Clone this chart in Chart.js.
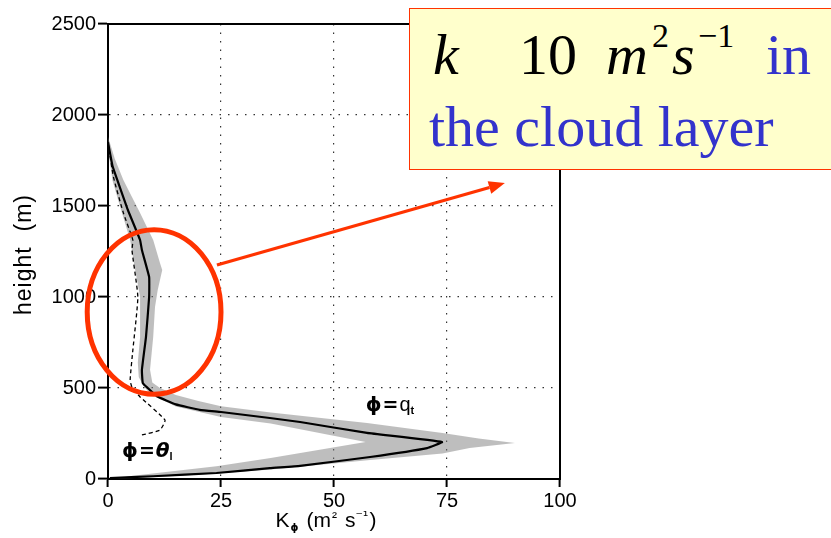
<!DOCTYPE html>
<html><head><meta charset="utf-8">
<script src="https://cdn.jsdelivr.net/npm/chart.js@4.4.1/dist/chart.umd.min.js"></script>
<style>
html,body{margin:0;padding:0;background:#fff;}
#wrap{position:relative;width:831px;height:538px;overflow:hidden;background:#fff;}
#c{position:absolute;left:0;top:0;}
#box{position:absolute;left:409px;top:8px;width:450px;height:162px;background:#ffffcc;border:1.5px solid #ff3300;box-sizing:border-box;}
.t{position:absolute;font-family:"Liberation Serif","Times New Roman",serif;white-space:nowrap;line-height:1;font-size:58px;color:#000;}
.i{font-style:italic;}
.s{font-size:34px;}
.b{color:#3333cc;}
</style></head><body>
<div id="wrap">
<canvas id="c" width="831" height="538"></canvas>
<div id="box"></div>
<span class="t i" style="left:433px;top:26px;">k</span>
<span class="t" style="left:519px;top:26px;">10</span>
<span class="t i" style="left:606px;top:26px;">m</span>
<span class="t s" style="left:652px;top:19px;">2</span>
<span class="t i" style="left:672px;top:26px;">s</span>
<span class="t s" style="left:698px;top:19px;">−1</span>
<span class="t b" style="left:766px;top:26px;">in</span>
<span class="t b" style="left:429px;top:98px;">the cloud layer</span>
</div>
<script>
// ---- data ----
const xTicks = [0, 25, 50, 75, 100];
const yTicks = [0, 500, 1000, 1500, 2000, 2500];

// phi = q_t (solid line): K (m2 s-1) and height (m)
const qtK = [0, 1.0, 2.3, 4.4, 7.1, 7.5, 9.1, 9.1, 8.4, 7.5, 7.7, 8.8, 10.8, 15, 20.3, 25, 35.8, 42.5, 57.3, 73.9, 70.6, 58, 42.5, 35.8, 24, 10, 0.4];
const qtH = [1850, 1720, 1626, 1478, 1313, 1258, 1110, 1000, 780, 599, 527, 500, 455, 410, 380, 368, 335, 313, 253, 203, 170, 121, 72, 60, 33, 15, 5];

// phi = theta_l (dashed line)
const thK = [0, 1.2, 3.4, 5.5, 5.3, 6.6, 5.5, 4.9, 5.3, 7.1, 12.6, 11.5, 7.5];
const thH = [1850, 1660, 1462, 1313, 1258, 1000, 709, 544, 505, 451, 324, 269, 242];

// shaded spread around q_t (outline of the grey region)
const bandK = [0, 1.5, 3.4, 5.5, 7.1, 10, 11.5, 12, 11, 10.4, 10, 9.3, 9.8, 11.5, 15, 20, 25, 36, 57.3, 74, 82, 90, 80, 74, 58, 36, 24, 12, 1,
               5.5, 24, 36, 57, 36, 25, 15, 9.5, 8, 6.8, 6.6, 7.1, 7.1, 6, 4.9, 2.7, 1, 0.3];
const bandH = [1880, 1760, 1643, 1540, 1462, 1313, 1187, 1148, 1038, 945, 780, 600, 530, 500, 462, 428, 400, 365, 308, 253, 222, 198, 170, 140, 104, 52, 30, 12, 0,
               18, 70, 115, 203, 305, 340, 398, 465, 505, 560, 640, 780, 1000, 1150, 1313, 1495, 1640, 1760];

// annotation anchors (data units)
const ellipseK = 10.2, ellipseH = 918, ellipseRK = 14.8, ellipseRH = 452;
const arrowFrom = [24.1, 1176], arrowTo = [87.8, 1626];
const qtLabelAt = [57, 374], thLabelAt = [3.1, 121];

const pts = (K, H) => K.map((k, i) => ({x: k, y: H[i]}));
const edgeClear = (lo, hi) => c => (c.tick && (c.tick.value === lo || c.tick.value === hi)) ? 'rgba(0,0,0,0)' : '#333';

function drawRuns(ctx, runs, x0) {
  let x = x0;
  for (const r of runs) {
    ctx.font = r.font;
    ctx.fillText(r.text, x, r.y);
    x += ctx.measureText(r.text).width + (r.gap || 0);
  }
  return x;
}
function runsWidth(ctx, runs) {
  let w = 0;
  for (const r of runs) { ctx.font = r.font; w += ctx.measureText(r.text).width + (r.gap || 0); }
  return w;
}

const annot = {
  id: 'annot',
  afterDraw(chart) {
    const {ctx, chartArea: a, scales: {x, y}} = chart;
    ctx.save();
    // top and right frame
    ctx.strokeStyle = '#000'; ctx.lineWidth = 2; ctx.setLineDash([]);
    ctx.beginPath(); ctx.moveTo(a.left - 1, a.top); ctx.lineTo(a.right, a.top); ctx.lineTo(a.right, a.bottom + 1); ctx.stroke();

    ctx.fillStyle = '#000'; ctx.textBaseline = 'alphabetic'; ctx.textAlign = 'left';
    // curve labels
    const F = '"DejaVu Sans", sans-serif';
    const qx = x.getPixelForValue(qtLabelAt[0]), qy = y.getPixelForValue(qtLabelAt[1]);
    drawRuns(ctx, [
      {text: 'ϕ', font: 'bold 20px ' + F, y: qy, gap: 1},
      {text: '=', font: 'bold 19px ' + F, y: qy, gap: 1},
      {text: 'q', font: '20px "Liberation Sans", sans-serif', y: qy},
      {text: 't', font: 'bold 11px "Liberation Sans", sans-serif', y: qy + 3}
    ], qx);
    const tx = x.getPixelForValue(thLabelAt[0]), ty = y.getPixelForValue(thLabelAt[1]);
    drawRuns(ctx, [
      {text: 'ϕ', font: 'bold 20px ' + F, y: ty, gap: 1},
      {text: '=', font: 'bold 19px ' + F, y: ty, gap: 1},
      {text: 'θ', font: 'bold italic 20px ' + F, y: ty},
      {text: 'l', font: 'bold 11px "Liberation Sans", sans-serif', y: ty + 3}
    ], tx);

    // x axis title
    const xr = [
      {text: 'K', font: '21px "Liberation Sans", sans-serif', y: 527, gap: 1},
      {text: 'ϕ', font: 'bold 10px ' + F, y: 531, gap: 8},
      {text: '(m', font: '21px "Liberation Sans", sans-serif', y: 527, gap: 1},
      {text: '²', font: '15px "Liberation Sans", sans-serif', y: 522, gap: 8},
      {text: 's', font: '21px "Liberation Sans", sans-serif', y: 527},
      {text: '⁻¹', font: '14px "DejaVu Sans", sans-serif', y: 521, gap: 1},
      {text: ')', font: '21px "Liberation Sans", sans-serif', y: 527}
    ];
    const xc = (a.left + a.right) / 2 - 8;
    drawRuns(ctx, xr, xc - runsWidth(ctx, xr) / 2);

    // y axis title
    ctx.save();
    ctx.translate(31, (a.top + a.bottom) / 2 + 3);
    ctx.rotate(-Math.PI / 2);
    ctx.font = '23px "Liberation Sans", sans-serif';
    ctx.textAlign = 'center';
    try { ctx.letterSpacing = '1px'; } catch (e) {}
    ctx.fillText('height  (m)', 0, 0);
    ctx.restore();

    // red ellipse
    const cx = x.getPixelForValue(ellipseK), cy = y.getPixelForValue(ellipseH);
    const rx = x.getPixelForValue(ellipseK + ellipseRK) - cx;
    const ry = cy - y.getPixelForValue(ellipseH + ellipseRH);
    ctx.strokeStyle = '#ff3300'; ctx.lineWidth = 5;
    ctx.beginPath(); ctx.ellipse(cx, cy, rx, ry, 0, 0, Math.PI * 2); ctx.stroke();

    // red arrow
    const x1 = x.getPixelForValue(arrowFrom[0]), y1 = y.getPixelForValue(arrowFrom[1]);
    const x2 = x.getPixelForValue(arrowTo[0]), y2 = y.getPixelForValue(arrowTo[1]);
    const ang = Math.atan2(y2 - y1, x2 - x1), hl = 16, hw = 6.5;
    const bx = x2 - hl * Math.cos(ang), by = y2 - hl * Math.sin(ang);
    ctx.lineWidth = 3.2; ctx.lineCap = 'butt';
    ctx.beginPath(); ctx.moveTo(x1, y1); ctx.lineTo(bx, by); ctx.stroke();
    ctx.fillStyle = '#ff3300';
    ctx.beginPath();
    ctx.moveTo(x2, y2);
    ctx.lineTo(bx + hw * Math.sin(ang), by - hw * Math.cos(ang));
    ctx.lineTo(bx - hw * Math.sin(ang), by + hw * Math.cos(ang));
    ctx.closePath(); ctx.fill();
    ctx.restore();
  }
};

const plainTick = v => String(v);

new Chart(document.getElementById('c').getContext('2d'), {
  type: 'line',
  data: {
    datasets: [
      {label: 'spread', data: pts(bandK, bandH), fill: 'shape', backgroundColor: 'rgba(125,125,125,0.5)',
       borderWidth: 0, pointRadius: 0, tension: 0, order: 3},
      {label: 'theta_l', data: pts(thK, thH), borderColor: '#000', borderWidth: 1.3, borderDash: [4, 3],
       pointRadius: 0, fill: false, tension: 0.15, order: 2},
      {label: 'q_t', data: pts(qtK, qtH), borderColor: '#000', borderWidth: 2.2,
       pointRadius: 0, fill: false, tension: 0.1, order: 1}
    ]
  },
  options: {
    responsive: false, animation: false, events: [],
    plugins: {legend: {display: false}, tooltip: {enabled: false}},
    layout: {padding: {left: 0, top: 24, right: 271, bottom: 0}},
    scales: {
      x: {
        type: 'linear', min: 0, max: 100,
        afterBuildTicks: s => { s.ticks = xTicks.map(v => ({value: v})); },
        afterFit: s => { s.height = 59; },
        ticks: {font: {family: '"Liberation Sans", sans-serif', size: 20}, color: '#000', padding: 2, maxRotation: 0, callback: plainTick},
        grid: {color: edgeClear(0, 100), lineWidth: 1.2, tickColor: '#000', tickLength: 8, tickWidth: 2},
        border: {display: true, color: '#000', width: 2, dash: [1.5, 7]}
      },
      y: {
        type: 'linear', min: 0, max: 2500,
        afterBuildTicks: s => { s.ticks = yTicks.map(v => ({value: v})); },
        afterFit: s => { s.width = 108; },
        ticks: {font: {family: '"Liberation Sans", sans-serif', size: 20}, color: '#000', padding: 2, callback: plainTick},
        grid: {color: edgeClear(0, 2500), lineWidth: 1.2, tickColor: '#000', tickLength: 10, tickWidth: 2},
        border: {display: true, color: '#000', width: 2, dash: [1.5, 7]}
      }
    }
  },
  plugins: [annot]
});
</script>
</body></html>
